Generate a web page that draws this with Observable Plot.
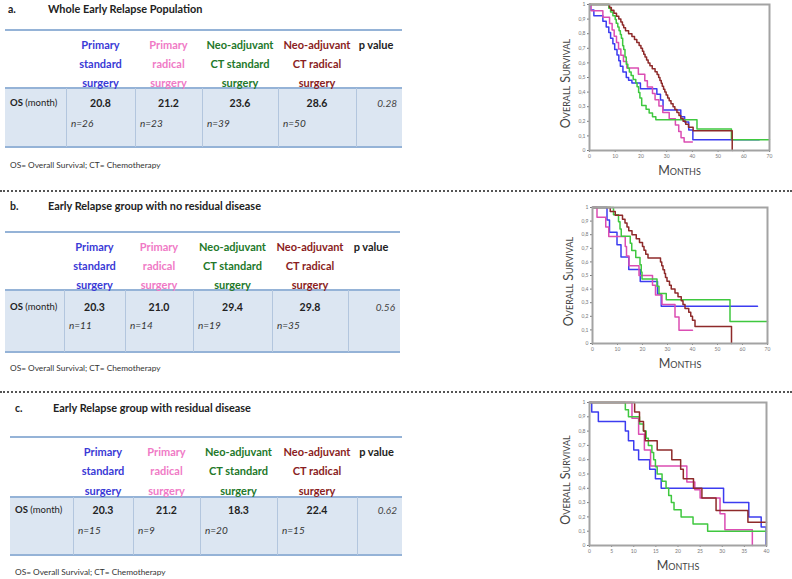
<!DOCTYPE html>
<html><head><meta charset="utf-8">
<script src="https://cdn.jsdelivr.net/npm/d3@7"></script>
<script src="https://cdn.jsdelivr.net/npm/@observablehq/plot@0.6"></script>
<style>
html,body{margin:0;padding:0;background:#fff;}
#page{position:relative;width:792px;height:579px;overflow:hidden;font-family:Lato,"Open Sans",sans-serif;color:#222;}
.abs{position:absolute;white-space:nowrap;line-height:1;}
.hl{position:absolute;}
.km{position:absolute;}
</style></head><body><div id="page"></div>
<script>
// ---------- data ----------
const panelLetters = ["a.", "b.", "c."];
const panelTitles = ["Whole Early Relapse Population", "Early Relapse group with no residual disease", "Early Relapse group with residual disease"];
const groupKeys = ["Primary standard surgery", "Primary radical surgery", "Neo-adjuvant CT standard surgery", "Neo-adjuvant CT radical surgery"];
const groupHeaders = [["Primary", "standard", "surgery"], ["Primary", "radical", "surgery"], ["Neo-adjuvant", "CT standard", "surgery"], ["Neo-adjuvant", "CT radical", "surgery"]];
const pHeader = "p value";
const rowLabelBold = "OS";
const rowLabelUnit = "(month)";
const footnote = "OS= Overall Survival; CT= Chemotherapy";

const osA = [20.8, 21.2, 23.6, 28.6];
const nA = [26, 23, 39, 50];
const pA = "0.28";
const osB = [20.3, 21.0, 29.4, 29.8];
const nB = [11, 14, 19, 35];
const pB = "0.56";
const osC = [20.3, 21.2, 18.3, 22.4];
const nC = [15, 9, 20, 15];
const pC = "0.62";

const xTicksAB = [0, 10, 20, 30, 40, 50, 60, 70];
const xTicksC = [0, 5, 10, 15, 20, 25, 30, 35, 40];
const yTicks = [0, 0.1, 0.2, 0.3, 0.4, 0.5, 0.6, 0.7, 0.8, 0.9, 1];
const yAxisLabel = "Overall Survival";
const xAxisLabel = "Months";

// Kaplan-Meier steps [month, survival]
const kmA_primStd = [[0,1],[0.4,0.962],[1.7,0.923],[5.2,0.885],[6.5,0.846],[7.5,0.808],[8.2,0.769],[9.1,0.731],[9.8,0.692],[10.7,0.654],[11.4,0.615],[12.0,0.577],[13.0,0.538],[14.3,0.5],[15.2,0.481],[16.5,0.462],[19.8,0.423],[26.2,0.385],[27.6,0.346],[28.6,0.277],[35.5,0.231],[37.0,0.196],[38.6,0.14],[40.2,0.073],[66,0.073]];
const kmA_primRad = [[0,1],[0.6,0.957],[5.2,0.913],[7.8,0.87],[8.8,0.826],[9.6,0.783],[10.5,0.739],[11.3,0.696],[12.2,0.652],[13.2,0.609],[14.5,0.565],[19.0,0.522],[21.5,0.478],[22.5,0.435],[24.5,0.391],[25.5,0.348],[27.0,0.304],[28.5,0.261],[31.0,0.217],[33.4,0.174],[34.7,0.13],[35.6,0.087],[36.8,0.058],[40,0.058]];
const kmA_neoStd = [[0,1],[7.5,0.974],[8.2,0.949],[9.1,0.923],[10.0,0.897],[10.4,0.872],[11.0,0.846],[11.5,0.821],[12.0,0.795],[12.4,0.769],[12.9,0.718],[13.3,0.692],[13.8,0.641],[14.3,0.59],[14.9,0.564],[15.5,0.538],[16.2,0.513],[17.0,0.487],[18.0,0.462],[18.5,0.436],[19.1,0.397],[19.6,0.359],[20.3,0.308],[22.0,0.282],[23.2,0.256],[24.5,0.231],[25.8,0.21],[41.8,0.148],[55.2,0.073],[70,0.073]];
const kmA_neoRad = [[0,1],[7.8,0.98],[8.5,0.96],[9.5,0.94],[10.5,0.92],[11.4,0.9],[12.2,0.88],[12.8,0.86],[13.3,0.84],[14.0,0.82],[15.2,0.8],[16.5,0.78],[17.5,0.76],[18.4,0.74],[19.3,0.72],[20.0,0.7],[20.6,0.68],[21.1,0.66],[21.6,0.64],[22.2,0.62],[22.8,0.6],[23.5,0.58],[24.4,0.56],[25.5,0.54],[26.3,0.52],[26.9,0.5],[27.4,0.48],[27.9,0.46],[28.3,0.44],[28.8,0.42],[29.3,0.4],[29.8,0.38],[30.4,0.36],[31.0,0.34],[31.7,0.32],[32.5,0.3],[33.2,0.28],[34.0,0.26],[34.8,0.24],[35.5,0.22],[36.4,0.2],[37.4,0.18],[38.5,0.16],[40.3,0.135],[55.5,0]];

const kmB_primStd = [[0,1],[5.8,0.909],[6.8,0.818],[9.8,0.727],[11.4,0.636],[14.5,0.545],[19.1,0.455],[26.0,0.364],[27.5,0.273],[66,0.273]];
const kmB_primRad = [[0,1],[1.8,0.929],[5.3,0.857],[6.5,0.786],[13.1,0.714],[13.6,0.643],[14.6,0.571],[18.6,0.5],[24.0,0.429],[25.2,0.357],[27.8,0.286],[33.0,0.195],[34.6,0.098],[40,0.098]];
const kmB_neoStd = [[0,1],[8.4,0.947],[10.4,0.895],[11.0,0.842],[11.5,0.789],[15.1,0.737],[15.7,0.684],[17.3,0.632],[19.0,0.579],[19.5,0.526],[19.8,0.474],[25.8,0.421],[26.6,0.368],[29.5,0.322],[55,0.161],[70,0.161]];
const kmB_neoRad = [[0,1],[7.1,0.971],[9.1,0.943],[12.0,0.914],[13.0,0.886],[13.8,0.857],[14.5,0.829],[15.8,0.8],[17.5,0.771],[18.8,0.743],[20.0,0.714],[20.6,0.686],[21.3,0.657],[22.2,0.629],[27.2,0.6],[27.7,0.571],[28.2,0.543],[28.8,0.514],[29.2,0.486],[29.8,0.457],[30.8,0.429],[31.5,0.4],[33.0,0.371],[34.2,0.343],[35.5,0.314],[36.2,0.286],[37.0,0.257],[38.5,0.229],[39.3,0.2],[40.0,0.171],[41.0,0.125],[55.6,0]];

const kmC_primStd = [[0,1],[0.5,0.933],[2.0,0.867],[8.1,0.8],[8.8,0.733],[10.0,0.667],[11.1,0.6],[13.6,0.533],[14.9,0.467],[16.2,0.4],[30.3,0.3],[36.0,0.2],[38.8,0.13],[39.9,0]];
const kmC_primRad = [[0,1],[9.6,0.889],[11.1,0.778],[12.4,0.667],[13.8,0.556],[22.0,0.444],[23.8,0.389],[25.0,0.333],[29.5,0.222],[30.6,0.111],[36.8,0]];
const kmC_neoStd = [[0,1],[8.1,0.95],[8.8,0.9],[11.3,0.85],[12.2,0.8],[12.8,0.75],[13.3,0.7],[14.1,0.65],[14.5,0.6],[14.9,0.55],[15.3,0.5],[16.4,0.45],[17.3,0.4],[17.9,0.35],[18.5,0.3],[19.1,0.25],[20.7,0.2],[23.4,0.15],[26.7,0.1],[40,0.1]];
const kmC_neoRad = [[0,1],[10.2,0.933],[11.3,0.867],[12.2,0.8],[12.6,0.733],[15.3,0.667],[18.6,0.6],[20.6,0.533],[21.2,0.467],[23.5,0.4],[25.4,0.333],[28.6,0.244],[35.8,0.163],[40,0.163]];

// ---------- styling ----------
const headerColors = ["#3a3ad6", "#f07ac6", "#23782a", "#8a1d22"];
const lineColors = ["#3c3cf0", "#db4db3", "#3fc83f", "#8e2a2a"];
const tableFill = "#dce6f2";
const tableLine = "#95b3d7";

const page = document.getElementById("page");
function el(cls, css, html) {
  const d = document.createElement("div");
  d.className = cls;
  Object.assign(d.style, css);
  if (html != null) d.innerHTML = html;
  page.appendChild(d);
  return d;
}
function txt(x, y, html, css = {}, align = "left") {
  const tx = align === "center" ? "-50%" : align === "right" ? "-100%" : "0";
  return el("abs", Object.assign({left: x + "px", top: y + "px", transform: `translate(${tx},-50%)`}, css), html);
}
function hline(x1, x2, y, w, color) {
  el("hl", {left: x1 + "px", top: (y - w / 2) + "px", width: (x2 - x1) + "px", height: w + "px", background: color});
}
function vline(x, y1, y2, w, color) {
  el("hl", {left: (x - w / 2) + "px", top: y1 + "px", width: w + "px", height: (y2 - y1) + "px", background: color});
}

const layouts = [
  {lx: 8, ly: 9, tx: 48, tl: 5, tr: 402, top: 30, hdr: [44, 63, 82], bt: 88, bb: 147, vx: [66, 135, 202, 278, 356], vy: 103, ny: 123, fy: 165,
   plot: {top: 0, h: 180, ml: 29, mr: 23, mt: 4, mb: 30}},
  {lx: 10, ly: 206, tx: 48, tl: 5, tr: 400, top: 232, hdr: [246, 265, 284], bt: 290, bb: 352, vx: [64, 125, 193, 272, 348], vy: 307, ny: 325, fy: 368,
   plot: {top: 190, h: 190, ml: 32, mr: 25, mt: 17, mb: 37}},
  {lx: 15, ly: 408, tx: 53, tl: 10, tr: 402, top: 437, hdr: [451, 470, 490], bt: 497, bb: 555, vx: [73, 133, 200, 277, 357], vy: 510, ny: 530, fy: 572,
   plot: {top: 390, h: 189, ml: 29, mr: 26, mt: 12, mb: 34}}
];
const panelData = [
  {os: osA, n: nA, p: pA, km: [kmA_primStd, kmA_primRad, kmA_neoStd, kmA_neoRad], xmax: 70, xt: xTicksAB},
  {os: osB, n: nB, p: pB, km: [kmB_primStd, kmB_primRad, kmB_neoStd, kmB_neoRad], xmax: 70, xt: xTicksAB},
  {os: osC, n: nC, p: pC, km: [kmC_primStd, kmC_primRad, kmC_neoStd, kmC_neoRad], xmax: 40, xt: xTicksC}
];

const fmtY = d => d === 0 ? "0" : d === 1 ? "1" : d.toFixed(1).replace(".", ",");

function kmPlot(pd, L) {
  const data = [];
  pd.km.forEach((pts, i) => pts.forEach(([t, s]) => data.push({t, s, g: groupKeys[i]})));
  return Plot.plot({
    width: 232, height: L.h, marginLeft: L.ml, marginRight: L.mr, marginTop: L.mt, marginBottom: L.mb,
    style: {fontFamily: "Lato, sans-serif", background: "transparent", overflow: "visible"},
    x: {domain: [0, pd.xmax]},
    y: {domain: [0, 1]},
    color: {domain: groupKeys, range: lineColors},
    marks: [
      Plot.axisX(pd.xt, {tickSize: 2, tickPadding: 2, fontSize: 5, label: null, color: "#777"}),
      Plot.axisY(yTicks, {tickSize: 2, tickPadding: 2, fontSize: 5, label: null, tickFormat: fmtY, color: "#777"}),
      Plot.line(data, {x: "t", y: "s", z: "g", stroke: "g", curve: "step-after", strokeWidth: 1.5}),
      Plot.frame({stroke: "#a3a3a3", strokeWidth: 2}),
      Plot.text([yAxisLabel], {text: d => d, frameAnchor: "left", textAnchor: "middle", lineAnchor: "middle", dx: -24, dy: 6, rotate: -90, fontSize: 12.5, fontVariant: "small-caps", fill: "#444"}),
      Plot.text([xAxisLabel], {text: d => d, frameAnchor: "bottom", textAnchor: "middle", lineAnchor: "middle", dy: 20, fontSize: 12.5, fontVariant: "small-caps", fill: "#444"})
    ]
  });
}

layouts.forEach((L, k) => {
  const pd = panelData[k];
  txt(L.lx, L.ly, panelLetters[k], {fontWeight: "bold", fontSize: "10.5px"});
  txt(L.tx, L.ly, panelTitles[k], {fontWeight: "bold", fontSize: "10.9px"});
  el("hl", {left: L.tl + "px", top: L.bt + "px", width: (L.tr - L.tl) + "px", height: (L.bb - L.bt) + "px", background: tableFill});
  hline(L.tl, L.tr, L.top, 1.5, tableLine);
  hline(L.tl, L.tr, L.bt, 1.5, tableLine);
  hline(L.tl, L.tr, L.bb, 2, tableLine);
  L.vx.forEach(x => vline(x, L.bt, L.bb, 1, "#b3c6de"));
  const bounds = [...L.vx, L.tr];
  groupHeaders.forEach((lines, i) => {
    const cx = (bounds[i] + bounds[i + 1]) / 2;
    lines.forEach((s, j) => txt(cx, L.hdr[j], s, {fontWeight: "bold", fontSize: "11px", color: headerColors[i]}, "center"));
    txt(cx, L.vy, pd.os[i].toFixed(1), {fontWeight: "bold", fontSize: "10.5px"}, "center");
    txt(bounds[i] + 5, L.ny, "n=" + pd.n[i], {fontStyle: "italic", fontSize: "10px", color: "#333"});
  });
  txt((bounds[4] + bounds[5]) / 2 - 3, L.hdr[0], pHeader, {fontWeight: "bold", fontSize: "11px"}, "center");
  txt(L.tr - 5, L.vy, pd.p, {fontStyle: "italic", fontSize: "10px", color: "#444"}, "right");
  txt(L.tl + 5, L.vy, `<b>${rowLabelBold}</b> ${rowLabelUnit}`, {fontSize: "9.5px"});
  txt(L.tl + 5, L.fy, footnote, {fontSize: "8.3px", color: "#333"});
  const svg = kmPlot(pd, L.plot);
  const wrap = el("km", {left: "560px", top: L.plot.top + "px"});
  wrap.appendChild(svg);
});
[191, 392].forEach(y => el("hl", {left: "0px", top: (y - 1) + "px", width: "792px", height: "0px", borderTop: "2px dotted #555"}));
</script></body></html>
